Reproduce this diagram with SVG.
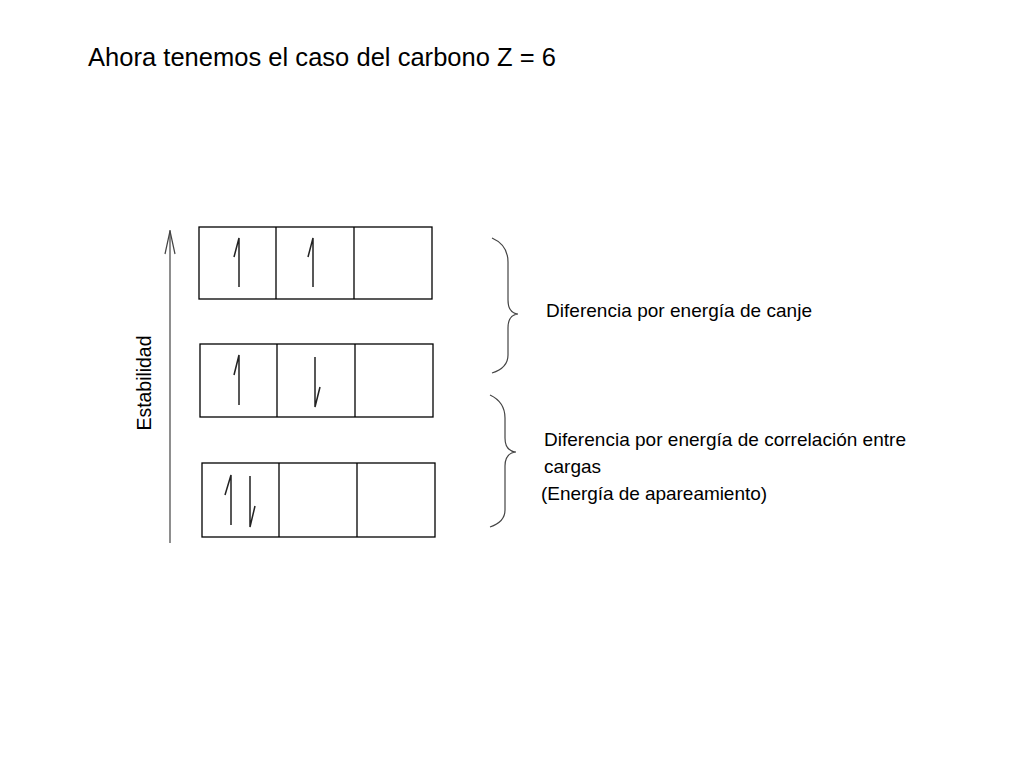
<svg xmlns="http://www.w3.org/2000/svg" width="1024" height="768" viewBox="0 0 1024 768">
<style>
.t{font-family:"Liberation Sans",Arial,sans-serif;fill:#000}
.b{fill:#fff;stroke:#000;stroke-width:1.3}
.l{fill:none;stroke:#222;stroke-width:1.5}
.s{fill:none;stroke:#444;stroke-width:1.2}
</style>
<rect width="1024" height="768" fill="#fff"/>
<text class="t" x="88" y="66" font-size="25.5" textLength="468">Ahora tenemos el caso del carbono Z = 6</text>
<g id="axis">
<line class="s" x1="170" y1="543" x2="170" y2="230"/>
<polyline class="s" points="165,254 170,231 175,254"/>
<text class="t" font-size="19.5" transform="translate(151,383) rotate(-90)" text-anchor="middle" textLength="95">Estabilidad</text>
</g>
<g id="row1">
<rect class="b" x="199" y="227" width="233" height="72"/>
<line class="b" x1="276" y1="227" x2="276" y2="299"/><line class="b" x1="354" y1="227" x2="354" y2="299"/>
<path class="l" d="M239,287 V238 L234,257"/><path class="l" d="M313,287 V238 L308,257"/>
</g>
<g id="row2">
<rect class="b" x="200" y="344" width="233" height="73"/>
<line class="b" x1="277" y1="344" x2="277" y2="417"/><line class="b" x1="355" y1="344" x2="355" y2="417"/>
<path class="l" d="M239,405 V355 L234,375"/><path class="l" d="M315,357 V407 L320,387"/>
</g>
<g id="row3">
<rect class="b" x="202" y="463" width="233" height="74"/>
<line class="b" x1="279" y1="463" x2="279" y2="537"/><line class="b" x1="357" y1="463" x2="357" y2="537"/>
<path class="l" d="M231,525 V475 L225,495"/><path class="l" d="M250,476 V527 L255,506"/>
</g>
<g id="braces">
<path class="s" d="M492,238 Q508,245 508,262 V300 Q508,313 518,314 Q508,315 508,328 V355 Q508,368 492,373"/>
<path class="s" d="M490,395 Q505,402 505,418 V438 Q505,451 516,452 Q505,453 505,466 V510 Q505,522 490,527"/>
</g>
<g id="labels">
<text class="t" x="546" y="317" font-size="19" textLength="266">Diferencia por energía de canje</text>
<text class="t" x="544" y="446" font-size="19" textLength="362">Diferencia por energía de correlación entre</text>
<text class="t" x="544" y="473" font-size="19">cargas</text>
<text class="t" x="541" y="500" font-size="19" textLength="226">(Energía de apareamiento)</text>
</g>
</svg>
